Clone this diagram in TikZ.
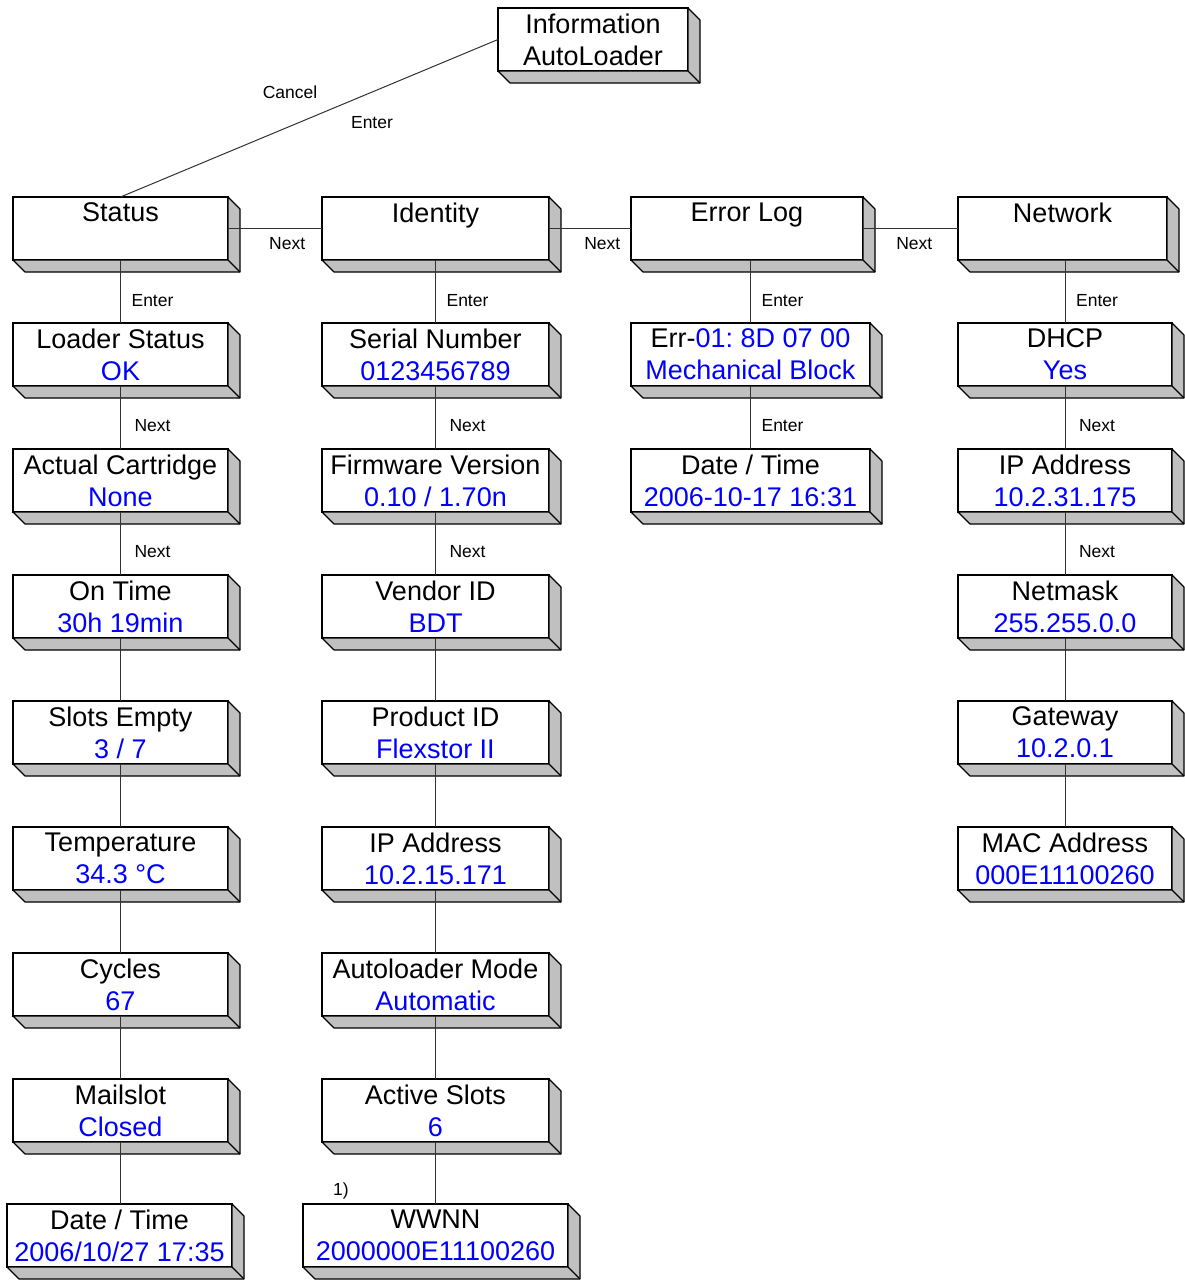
\documentclass[tikz,border=0pt]{standalone}
\usepackage{fontspec}
\setmainfont{Liberation Sans}
\usetikzlibrary{calc}
\frenchspacing
\definecolor{sideg}{RGB}{192,192,192}
\definecolor{valblue}{RGB}{0,0,255}
\definecolor{conn}{RGB}{50,50,50}
\tikzset{
  box/.style={draw=black, line width=1.1pt, fill=white, anchor=north west,
    minimum height=63, inner sep=0pt, outer sep=0pt, align=center,
    font=\fontsize{27}{32}\selectfont},
  lbl/.style={font=\fontsize{17.5}{20}\selectfont, inner sep=0pt},
  link/.style={draw=conn, line width=1pt},
}
\newcommand\extrude[1]{%
  \filldraw[fill=sideg, draw=black, line width=1.1pt, line join=round]
    (#1.north east) -- ($(#1.north east)+(12,12)$) -- ($(#1.south east)+(12,12)$)
    -- ($(#1.south west)+(12,12)$) -- (#1.south west) -- (#1.south east) -- cycle;
  \draw[black, line width=1.1pt] (#1.south east) -- ($(#1.south east)+(12,12)$);}
\newcommand\val[1]{\textcolor{valblue}{#1}}
\begin{document}
\begin{tikzpicture}[x=1pt,y=-1pt]
\useasboundingbox (0,0) rectangle (1184,1280);
% top
\node[box, minimum width=190] (info) at (498,8) {Information\\AutoLoader}; \extrude{info}
% column 1
\node[box, minimum width=215] (status) at (13,197) {Status\\\phantom{X}}; \extrude{status}
\node[box, minimum width=215] (lstat) at (13,323) {Loader Status\\\val{OK}}; \extrude{lstat}
\node[box, minimum width=215] (cart) at (13,449) {Actual Cartridge\\\val{None}}; \extrude{cart}
\node[box, minimum width=215] (ontime) at (13,575) {On Time\\\val{30h 19min}}; \extrude{ontime}
\node[box, minimum width=215] (slots) at (13,701) {Slots Empty\\\val{3 / 7}}; \extrude{slots}
\node[box, minimum width=215] (temp) at (13,827) {Temperature\\\val{34.3 °C}}; \extrude{temp}
\node[box, minimum width=215] (cycles) at (13,953) {Cycles\\\val{67}}; \extrude{cycles}
\node[box, minimum width=215] (mail) at (13,1079) {Mailslot\\\val{Closed}}; \extrude{mail}
\node[box, minimum width=225] (date1) at (7,1204) {Date / Time\\\val{2006/10/27 17:35}}; \extrude{date1}
% column 2
\node[box, minimum width=227] (identity) at (322,197) {Identity\\\phantom{X}}; \extrude{identity}
\node[box, minimum width=227] (serial) at (322,323) {Serial Number\\\val{0123456789}}; \extrude{serial}
\node[box, minimum width=227] (fw) at (322,449) {Firmware Version\\\val{0.10 / 1.70n}}; \extrude{fw}
\node[box, minimum width=227] (vendor) at (322,575) {Vendor ID\\\val{BDT}}; \extrude{vendor}
\node[box, minimum width=227] (prod) at (322,701) {Product ID\\\val{Flexstor II}}; \extrude{prod}
\node[box, minimum width=227] (ip2) at (322,827) {IP Address\\\val{10.2.15.171}}; \extrude{ip2}
\node[box, minimum width=227] (mode) at (322,953) {Autoloader Mode\\\val{Automatic}}; \extrude{mode}
\node[box, minimum width=227] (active) at (322,1079) {Active Slots\\\val{6}}; \extrude{active}
\node[box, minimum width=265] (wwnn) at (303,1204) {WWNN\\\val{2000000E11100260}}; \extrude{wwnn}
% column 3
\node[box, minimum width=232] (errlog) at (631,197) {Error Log\\\phantom{X}}; \extrude{errlog}
\node[box, minimum width=239] (err) at (631,323) {Err-\val{01: 8D 07 00}\\\val{Mechanical Block}}; \extrude{err}
\node[box, minimum width=239] (errdate) at (631,449) {Date / Time\\\val{2006-10-17 16:31}}; \extrude{errdate}
% column 4
\node[box, minimum width=209] (network) at (958,197) {Network\\\phantom{X}}; \extrude{network}
\node[box, minimum width=214] (dhcp) at (958,323) {DHCP\\\val{Yes}}; \extrude{dhcp}
\node[box, minimum width=214] (ip4) at (958,449) {IP Address\\\val{10.2.31.175}}; \extrude{ip4}
\node[box, minimum width=214] (netmask) at (958,575) {Netmask\\\val{255.255.0.0}}; \extrude{netmask}
\node[box, minimum width=214] (gateway) at (958,701) {Gateway\\\val{10.2.0.1}}; \extrude{gateway}
\node[box, minimum width=214] (mac) at (958,827) {MAC Address\\\val{000E11100260}}; \extrude{mac}
% connectors
\draw[link] (info.west) -- (status.north);
\node[lbl] (cancel) at (290,92) {Cancel};
\node[lbl] (enter0) at (372,123) {Enter};
\draw[link] (status.east) -- node[lbl, pos=.63, yshift=-15]{Next} (identity.west);
\draw[link] (identity.east) -- node[lbl, pos=.65, yshift=-15]{Next} (errlog.west);
\draw[link] (errlog.east) -- node[lbl, pos=.54, yshift=-15]{Next} (network.west);
% col 1 links
\draw[link] (status.south) -- node[lbl, pos=.64, xshift=32]{Enter} (lstat.north);
\draw[link] (lstat.south) -- node[lbl, pos=.63, xshift=32]{Next} (cart.north);
\draw[link] (cart.south) -- node[lbl, pos=.63, xshift=32]{Next} (ontime.north);
\draw[link] (ontime.south) -- (slots.north);
\draw[link] (slots.south) -- (temp.north);
\draw[link] (temp.south) -- (cycles.north);
\draw[link] (cycles.south) -- (mail.north);
\draw[link] (mail.south) -- (mail.south |- date1.north);
% col 2 links
\draw[link] (identity.south) -- node[lbl, pos=.64, xshift=32]{Enter} (serial.north);
\draw[link] (serial.south) -- node[lbl, pos=.63, xshift=32]{Next} (fw.north);
\draw[link] (fw.south) -- node[lbl, pos=.63, xshift=32]{Next} (vendor.north);
\draw[link] (vendor.south) -- (prod.north);
\draw[link] (prod.south) -- (ip2.north);
\draw[link] (ip2.south) -- (mode.north);
\draw[link] (mode.south) -- (active.north);
\draw[link] (active.south) -- (wwnn.north);
\node[lbl] (note1) at (341,1191) {1)};
% col 3 links
\draw[link] (errlog.south -| err.north) -- node[lbl, pos=.64, xshift=32]{Enter} (err.north);
\draw[link] (err.south) -- node[lbl, pos=.63, xshift=32]{Enter} (errdate.north);
% col 4 links
\draw[link] (network.south -| dhcp.north) -- node[lbl, pos=.64, xshift=32]{Enter} (dhcp.north);
\draw[link] (dhcp.south) -- node[lbl, pos=.63, xshift=32]{Next} (ip4.north);
\draw[link] (ip4.south) -- node[lbl, pos=.63, xshift=32]{Next} (netmask.north);
\draw[link] (netmask.south) -- (gateway.north);
\draw[link] (gateway.south) -- (mac.north);
\end{tikzpicture}
\end{document}
